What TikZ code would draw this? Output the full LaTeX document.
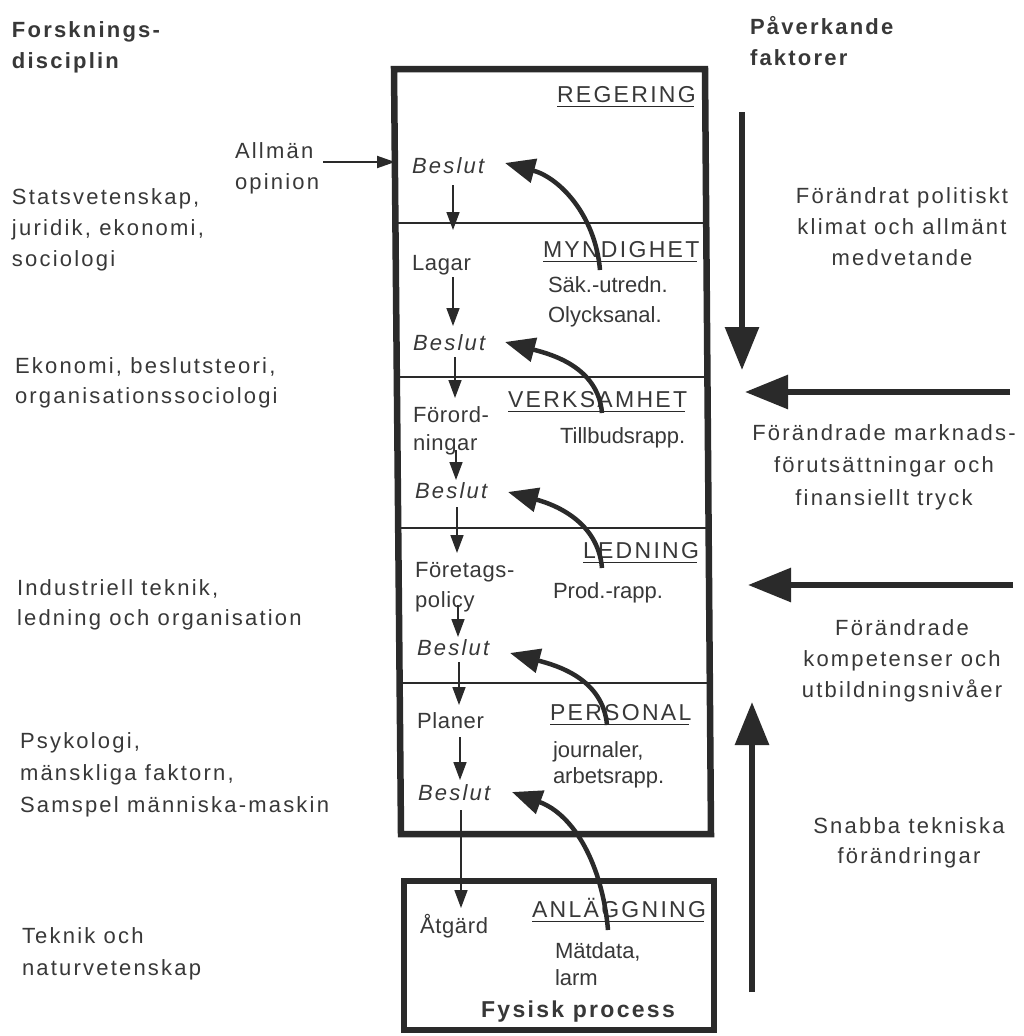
\documentclass[tikz,border=0pt]{standalone}
\usepackage{fontspec}
\setmainfont{Liberation Sans}
\newfontfamily\outerfont[LetterSpace=10]{Liberation Sans}
\newfontfamily\capsfont[LetterSpace=10]{Liberation Sans}
\newfontfamily\innerfont[LetterSpace=3]{Liberation Sans}
\usetikzlibrary{arrows.meta,calc}
\definecolor{ink}{HTML}{2A2A2A}
\definecolor{txt}{HTML}{383838}
\begin{document}
\begin{tikzpicture}[x=1pt,y=-1pt,
  every node/.style={inner sep=0pt, outer sep=0pt, text=txt},
  outer/.style={font=\outerfont\fontsize{22}{31}\selectfont, align=left, anchor=base west},
  outerc/.style={font=\outerfont\fontsize{22}{31}\selectfont, align=center, anchor=base},
  headtxt/.style={font=\outerfont\bfseries\fontsize{22}{31}\selectfont, align=left, anchor=base west},
  lvl/.style={font=\capsfont\fontsize{23}{28}\selectfont, anchor=base west},
  dec/.style={font=\outerfont\itshape\fontsize{22}{28}\selectfont, anchor=base west},
  lcol/.style={font=\innerfont\fontsize{22}{28}\selectfont, align=left, anchor=base west},
  rcol/.style={font=\fontsize{22}{27}\selectfont, align=left, anchor=base west},
  boxline/.style={draw=ink, line width=6.5pt, line join=miter},
  divline/.style={draw=ink, line width=2.5pt},
  uline/.style={draw=ink, line width=1.8pt},
  sarrow/.style={draw=ink, line width=1.6pt, -{Triangle[length=18pt,width=13pt]}},
  aarrow/.style={draw=ink, line width=2pt, -{Triangle[length=18pt,width=12pt]}},
  carrow/.style={draw=ink, line width=4.5pt, -{Triangle[length=30pt,width=24pt]}},
  barrow/.style={draw=ink, line width=6pt, -{Triangle[length=43pt,width=33pt]}},
]
\useasboundingbox[fill=white] (0,0) rectangle (1024,1036);

% main box and level dividers
\draw[boxline] (394,69) -- (705,69) -- (711,834) -- (401,834) -- cycle;
\draw[divline] (395.4,223) -- (706.2,223);
\draw[divline] (396.8,377) -- (707.4,377);
\draw[divline] (398.2,528) -- (708.6,528);
\draw[divline] (399.6,683) -- (709.8,683);
% plant box
\draw[boxline] (404,881) rectangle (714,1030);

% headers (base anchor = baseline of the last line)
\node[headtxt] (hdL) at (12,68) {Forsknings-\\disciplin};
\node[headtxt] (hdR) at (750,65) {Påverkande\\faktorer};

% left column: research disciplines
\node[outer] (allman) at (235,189) {Allmän\\opinion};
\node[outer] (statsv) at (12,266) {Statsvetenskap,\\juridik, ekonomi,\\sociologi};
\node[outer, font=\outerfont\fontsize{22}{30}\selectfont] (ekon) at (15,403) {Ekonomi, beslutsteori,\\organisationssociologi};
\node[outer, font=\outerfont\fontsize{22}{30}\selectfont] (indu) at (17,625) {Industriell teknik,\\ledning och organisation};
\node[outer, font=\outerfont\fontsize{22}{32}\selectfont] (psyk) at (20,812) {Psykologi,\\mänskliga faktorn,\\Samspel människa-maskin};
\node[outer, font=\outerfont\fontsize{22}{32}\selectfont] (tekn) at (22,975) {Teknik och\\naturvetenskap};

% right column: influencing factors
\node[outerc] (fak1) at (902,265) {Förändrat politiskt\\klimat och allmänt\\medvetande};
\node[outerc, font=\outerfont\fontsize{22}{32.5}\selectfont] (fak2) at (884,505) {Förändrade marknads-\\förutsättningar och\\finansiellt tryck};
\node[outerc] (fak3) at (902,697) {Förändrade\\kompetenser och\\utbildningsnivåer};
\node[outerc, font=\outerfont\fontsize{22}{30}\selectfont] (fak4) at (909,863) {Snabba tekniska\\förändringar};

% level labels
\node[lvl] (reg) at (557,102) {REGERING};
\node[lvl] (myn) at (543,257) {MYNDIGHET};
\node[lvl] (verk) at (508,407) {VERKSAMHET};
\node[lvl] (led) at (583,558) {LEDNING};
\node[lvl] (pers) at (550,720) {PERSONAL};
\node[lvl] (anl) at (532,917) {ANLÄGGNING};
\foreach \n in {reg,myn,verk,led,pers,anl}
  \draw[uline] ([yshift=-4.5pt]\n.base west) -- ([yshift=-4.5pt,xshift=-2pt]\n.base east);

% decisions
\node[dec] (b1) at (412,173) {Beslut};
\node[dec] (b2) at (413,350) {Beslut};
\node[dec] (b3) at (415,498) {Beslut};
\node[dec] (b4) at (417,655) {Beslut};
\node[dec] (b5) at (418,800) {Beslut};

% left inner column
\node[lcol] (lagar) at (412,270) {Lagar};
\node[lcol] (forord) at (413,450) {Förord-\\ningar};
\node[lcol, font=\innerfont\fontsize{22}{30}\selectfont] (foretag) at (415,607) {Företags-\\policy};
\node[lcol] (planer) at (417,728) {Planer};
\node[lcol] (atgard) at (420,933) {Åtgärd};

% right inner column
\node[rcol, font=\fontsize{22}{30}\selectfont] (sak) at (548,322) {Säk.-utredn.\\Olycksanal.};
\node[rcol] (tillb) at (560,443) {Tillbudsrapp.};
\node[rcol] (prod) at (553,598) {Prod.-rapp.};
\node[rcol, font=\fontsize{22}{26}\selectfont] (journ) at (553,783) {journaler,\\arbetsrapp.};
\node[rcol] (matd) at (555,985) {Mätdata,\\larm};
\node[font=\outerfont\bfseries\fontsize{23}{28}\selectfont, anchor=base] (fys) at (578,1017) {Fysisk process};

% downward chain of small arrows
\draw[sarrow] ($(b1.base west)+(41,12)$) -- ($(lagar.base west)+(41,-40)$);
\draw[sarrow] ($(lagar.base west)+(41,7)$) -- ($(b2.base west)+(40,-24)$);
\draw[sarrow] ($(b2.base west)+(42,7)$) -- ($(forord.base west)+(42,-52)$);
\draw[sarrow] ($(forord.base west)+(43,0)$) -- ($(b3.base west)+(41,-18)$);
\draw[sarrow] ($(b3.base west)+(42,9)$) -- ($(foretag.base west)+(42,-54)$);
\draw[sarrow] ($(foretag.base west)+(43,-2)$) -- ($(b4.base west)+(41,-18)$);
\draw[sarrow] ($(b4.base west)+(42,7)$) -- ($(planer.base west)+(42,-23)$);
\draw[sarrow] ($(planer.base west)+(43,9)$) -- ($(b5.base west)+(42,-20)$);
\draw[sarrow] ($(b5.base west)+(43,10)$) -- ($(atgard.base west)+(41,-25)$);

% feedback curves
\draw[carrow] ($(sak.base west)+(52,-52)$) to[out=95,in=-15] ($(b1.base west)+(93,-10)$);
\draw[carrow] ($(tillb.base west)+(42,-30)$) to[out=95,in=-15] ($(b2.base west)+(92,-8)$);
\draw[carrow] ($(prod.base west)+(49,-30)$) to[out=95,in=-15] ($(b3.base west)+(93,-6)$);
\draw[carrow] ($(journ.base west)+(54,-58)$) to[out=95,in=-15] ($(b4.base west)+(93,-2)$);
\draw[carrow] ($(matd.base west)+(53,-55)$) to[out=95,in=-20] ($(b5.base west)+(94,-8)$);

% public opinion
\draw[aarrow] ($(allman.base west)+(88,-27)$) -- ($(b1.base west)+(-17,-11)$);

% influencing factor arrows
\coordinate (dnS) at (742,112);
\coordinate (dnE) at (742,370);
\coordinate (l1S) at (1010,392);
\coordinate (l1E) at (745,392);
\coordinate (l2S) at (1013,585);
\coordinate (l2E) at (748,585);
\coordinate (upS) at (752,992);
\coordinate (upE) at (752,702);
\draw[barrow] (dnS) -- (dnE);
\draw[barrow] (l1S) -- (l1E);
\draw[barrow] (l2S) -- (l2E);
\draw[barrow] (upS) -- (upE);
\end{tikzpicture}
\end{document}
